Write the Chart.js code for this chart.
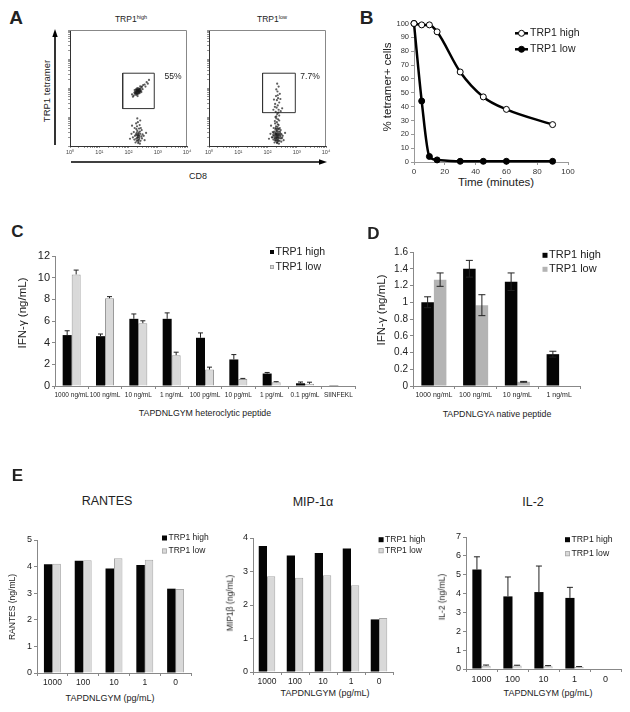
<!DOCTYPE html>
<html>
<head>
<meta charset="utf-8">
<script src="https://cdn.jsdelivr.net/npm/chart.js@4.4.1/dist/chart.umd.min.js"></script>
<style>
  body { margin: 0; background: #fff; }
  #page { position: relative; width: 630px; height: 712px; overflow: hidden;
          font-family: "Liberation Sans", Arial, Helvetica, sans-serif; color: #222; }
  #page canvas, #page svg { position: absolute; }
  .t { position: absolute; white-space: nowrap; line-height: 1; transform: translate(-50%, -50%); }
  .t.rot { transform: translate(-50%, -50%) rotate(-90deg); }
  .t sup { font-size: 65%; vertical-align: 0.45em; line-height: 0; }
</style>
</head>
<body>
<div id="page">
  <svg width="630" height="712" style="left:0;top:0">
    <line x1="55" y1="145" x2="55" y2="36" stroke="#000" stroke-width="1.6"/>
    <polygon points="55,29 52.3,37 57.7,37" fill="#000"/>
    <line x1="71" y1="162" x2="320" y2="162" stroke="#000" stroke-width="1.6"/>
    <polygon points="327,162 319,159.3 319,164.7" fill="#000"/>
  </svg>
</div>
<script>
// ---- panel A: flow cytometry (log10 decades) ----
const flowTickLabels = ['10⁰', '10¹', '10²', '10³', '10⁴'];
const highUpperCluster = [[2.30,1.88],[2.34,1.92],[2.28,1.85],[2.38,1.95],[2.25,1.82],[2.32,1.90],[2.36,1.86],[2.27,1.93],[2.40,1.98],[2.22,1.80],[2.33,1.84],[2.29,1.96],[2.35,1.99],[2.31,1.79],[2.42,1.92],[2.24,1.88],[2.37,1.90],[2.26,1.76],[2.44,2.02],[2.20,1.84],[2.39,1.87],[2.30,2.00],[2.34,1.81],[2.28,1.90],[2.46,2.05],[2.18,1.74],[2.32,1.94],[2.36,1.96],[2.23,1.86],[2.41,1.89],[2.27,1.83],[2.33,1.87],[2.30,1.92],[2.35,1.93],[2.29,1.80],[2.50,2.10],[2.55,2.12],[2.62,2.20],[2.70,2.28],[2.15,1.70],[2.48,1.96],[2.21,1.93],[2.38,1.82],[2.25,1.95],[2.58,2.05],[2.12,1.78],[2.44,1.86],[2.31,1.72],[2.40,2.06],[2.66,2.15]];
const negativeCluster = [[2.30,0.30],[2.35,0.38],[2.26,0.25],[2.40,0.42],[2.32,0.20],[2.28,0.45],[2.37,0.28],[2.22,0.35],[2.44,0.33],[2.30,0.52],[2.34,0.15],[2.25,0.40],[2.39,0.50],[2.31,0.36],[2.20,0.22],[2.46,0.26],[2.36,0.60],[2.27,0.58],[2.33,0.10],[2.41,0.18],[2.18,0.48],[2.29,0.68],[2.38,0.72],[2.24,0.12],[2.48,0.40],[2.15,0.30],[2.32,0.82],[2.42,0.62],[2.26,0.78],[2.35,0.46],[2.31,0.28],[2.34,0.32],[2.29,0.38],[2.36,0.22],[2.52,0.35],[2.10,0.42],[2.45,0.55],[2.21,0.62],[2.39,0.08],[2.55,0.20],[2.05,0.25],[2.30,0.95],[2.40,0.88],[2.60,0.45],[2.12,0.70],[2.33,0.42],[2.28,0.18],[2.37,0.35]];
const lowExtraCluster = [[2.23,0.50],[2.43,0.48],[2.27,0.32],[2.38,0.40],[2.32,0.58],[2.19,0.38],[2.47,0.15],[2.34,0.66],[2.25,0.86],[2.36,0.92],[2.30,1.02],[2.40,1.05],[2.31,0.25],[2.35,0.30],[2.29,0.43],[2.33,0.52],[2.26,0.20],[2.41,0.27],[2.24,0.28],[2.37,0.18],[2.42,0.36],[2.21,0.45],[2.28,0.62],[2.39,0.58],[2.32,0.12],[2.45,0.42],[2.17,0.30],[2.35,0.75],[2.30,0.40],[2.50,0.28]];
const lowStreak = [[2.33,1.10],[2.28,1.18],[2.38,1.25],[2.31,1.32],[2.35,1.40],[2.26,1.45],[2.40,1.50],[2.32,1.58],[2.36,1.65],[2.29,1.72],[2.42,1.80],[2.34,1.88],[2.30,1.95],[2.38,2.05],[2.25,1.35],[2.45,1.20],[2.22,1.60],[2.44,1.62],[2.33,2.15],[2.37,1.15],[2.27,1.00],[2.50,1.30],[2.20,1.25],[2.35,1.75]];
const gateHigh = [[1.80,1.29],[2.88,1.29],[2.88,2.51],[1.80,2.51],[1.80,1.29]];
const gateLow = [[1.83,1.15],[2.95,1.15],[2.95,2.51],[1.83,2.51],[1.83,1.15]];

// ---- panel B: tetramer decay ----
const timeMinutes = [0, 5, 10, 15, 30, 45, 60, 90];
const tetramerHigh = [100, 99, 99, 94, 65, 47, 38, 27];
const tetramerLow = [100, 44, 4, 1.5, 0.5, 0.5, 0.5, 0.5];

// ---- panel C: heteroclytic peptide ----
const dosesC = ['1000 ng/mL', '100 ng/mL', '10 ng/mL', '1 ng/mL', '100 pg/mL', '10 pg/mL', '1 pg/mL', '0.1 pg/mL', 'SIINFEKL'];
const ifnHighC = [4.7, 4.6, 6.2, 6.2, 4.45, 2.45, 1.15, 0.25, 0.02];
const ifnHighErrC = [0.4, 0.2, 0.45, 0.55, 0.45, 0.45, 0.1, 0.12, 0];
const ifnLowC = [10.3, 8.1, 5.8, 2.85, 1.52, 0.65, 0.35, 0.2, 0];
const ifnLowErrC = [0.4, 0.15, 0.22, 0.27, 0.22, 0.05, 0.05, 0.15, 0];

// ---- panel D: native peptide ----
const dosesD = ['1000 ng/mL', '100 ng/mL', '10 ng/mL', '1 ng/mL'];
const ifnHighD = [1.0, 1.4, 1.245, 0.38];
const ifnHighErrD = [0.065, 0.1, 0.105, 0.035];
const ifnLowD = [1.27, 0.965, 0.05, 0];
const ifnLowErrD = [0.08, 0.125, 0.005, 0];

// ---- panel E: cytokines ----
const dosesE = ['1000', '100', '10', '1', '0'];
const rantesHigh = [4.09, 4.22, 3.93, 4.06, 3.17];
const rantesLow = [4.11, 4.24, 4.31, 4.26, 3.16];
const mipHigh = [3.76, 3.48, 3.55, 3.69, 1.57];
const mipLow = [2.86, 2.81, 2.89, 2.59, 1.61];
const il2High = [5.27, 3.85, 4.08, 3.77, 0];
const il2HighErr = [0.68, 1.03, 1.38, 0.56, 0];
const il2Low = [0.17, 0.18, 0.15, 0.1, 0];
const il2LowErr = [0.04, 0.02, 0.03, 0.03, 0];

const FONT = '"Liberation Sans", Arial, Helvetica, sans-serif';
Chart.defaults.font.family = FONT;
Chart.defaults.color = '#222';
const page = document.getElementById('page');

// small legend drawn at fixed page coords
const boxLegend = {
  id: 'boxLegend',
  afterDraw(chart, args, o) {
    if (o.x === undefined) return;
    const ctx = chart.ctx;
    ctx.save();
    ctx.font = o.size + 'px ' + FONT;
    ctx.textBaseline = 'middle';
    chart.data.datasets.forEach((ds, i) => {
      if (!ds.label) return;
      const x = o.x - o.ox, y = o.y - o.oy + i * o.dy;
      let tx;
      if (o.mode === 'line') {
        ctx.strokeStyle = ds.borderColor; ctx.lineWidth = ds.borderWidth;
        ctx.beginPath(); ctx.moveTo(x, y); ctx.lineTo(x + o.len, y); ctx.stroke();
        ctx.beginPath(); ctx.arc(x + o.len / 2, y, 3, 0, Math.PI * 2);
        ctx.fillStyle = ds.pointBackgroundColor; ctx.fill();
        ctx.lineWidth = 1; ctx.strokeStyle = '#000'; ctx.stroke();
        tx = x + o.len + 2;
      } else {
        ctx.fillStyle = ds.backgroundColor;
        ctx.fillRect(x, y - o.box / 2, o.box, o.box);
        if (ds.borderWidth) { ctx.strokeStyle = ds.borderColor; ctx.lineWidth = 0.8; ctx.strokeRect(x + 0.4, y - o.box / 2 + 0.4, o.box - 0.8, o.box - 0.8); }
        tx = x + o.box + 1.5;
      }
      ctx.fillStyle = '#222';
      ctx.fillText(ds.label, tx, y);
    });
    ctx.restore();
  }
};

const errorBars = {
  id: 'errorBars',
  afterDatasetsDraw(chart, args, o) {
    if (!o.cap) return;
    const ctx = chart.ctx, ys = chart.scales.y;
    ctx.save();
    ctx.strokeStyle = '#222'; ctx.lineWidth = 1;
    chart.data.datasets.forEach((ds, i) => {
      if (!ds.errors) return;
      chart.getDatasetMeta(i).data.forEach((bar, j) => {
        const e = ds.errors[j];
        if (!e) return;
        const v = ds.data[j];
        const top = ys.getPixelForValue(v + e);
        const bot = o.both ? ys.getPixelForValue(Math.max(v - e, 0)) : bar.y;
        ctx.beginPath();
        ctx.moveTo(bar.x, top); ctx.lineTo(bar.x, bot);
        ctx.moveTo(bar.x - o.cap, top); ctx.lineTo(bar.x + o.cap, top);
        if (o.both) { ctx.moveTo(bar.x - o.cap, bot); ctx.lineTo(bar.x + o.cap, bot); }
        ctx.stroke();
      });
    });
    ctx.restore();
  }
};

const frame = {
  id: 'frame',
  beforeDatasetsDraw(chart, args, o) {
    if (!o.color) return;
    const a = chart.chartArea, ctx = chart.ctx;
    ctx.save();
    ctx.strokeStyle = o.color; ctx.lineWidth = 1;
    ctx.beginPath();
    ctx.moveTo(a.left, a.top + 0.5); ctx.lineTo(a.right - 0.5, a.top + 0.5); ctx.lineTo(a.right - 0.5, a.bottom);
    ctx.stroke();
    ctx.restore();
  }
};
Chart.register(boxLegend, errorBars, frame);

// area = chart area in page px [l, t, r, b]; pad = room for axes [left, top, right, bottom]
function makeChart(area, pad, config) {
  const [l, t, r, b] = area, [pl, pt, pr, pb] = pad;
  const cv = document.createElement('canvas');
  const W = Math.round(r - l + pl + pr), H = Math.round(b - t + pt + pb);
  cv.width = W; cv.height = H;
  cv.style.left = (l - pl) + 'px'; cv.style.top = (t - pt) + 'px';
  cv.style.width = W + 'px'; cv.style.height = H + 'px';
  page.appendChild(cv);
  const o = config.options;
  o.responsive = false; o.animation = false; o.devicePixelRatio = 1;
  o.layout = { padding: { top: pt, right: pr, left: 0, bottom: 0 } };
  o.scales.x.afterFit = s => { s.height = pb; };
  o.scales.y.afterFit = s => { s.width = pl; };
  o.plugins = Object.assign({ legend: { display: false }, tooltip: { enabled: false } }, o.plugins || {});
  if (o.plugins.boxLegend) { o.plugins.boxLegend.ox = l - pl; o.plugins.boxLegend.oy = t - pt; }
  return new Chart(cv, config);
}

function txt(html, x, y, size, extra) {
  const d = document.createElement('div');
  d.className = 't' + (extra && extra.rot ? ' rot' : '');
  d.innerHTML = html;
  d.style.left = x + 'px'; d.style.top = y + 'px'; d.style.fontSize = size + 'px';
  if (extra && extra.bold) d.style.fontWeight = 'bold';
  page.appendChild(d);
}

const pts = arr => arr.map(p => ({ x: p[0], y: p[1] }));
const flowMinor = [];
for (let n = 0; n < 4; n++) for (let k = 2; k < 10; k++) flowMinor.push(n + Math.log10(k));

function flowAxis(labels) {
  return {
    type: 'linear', min: 0, max: 4,
    afterBuildTicks: s => { s.ticks = [0, 1, 2, 3, 4].concat(flowMinor).sort((a, b) => a - b).map(v => ({ value: v })); },
    grid: { display: true, drawOnChartArea: false, tickLength: 2, color: '#666', lineWidth: 0.7 },
    border: { color: '#333' },
    ticks: labels
      ? { autoSkip: false, maxRotation: 0, padding: 1, font: { size: 5.5 }, color: '#444', callback: v => Number.isInteger(v) ? flowTickLabels[v] : '' }
      : { display: false }
  };
}

function flowChart(area, clouds, gate) {
  const ds = clouds.map(c => ({ data: pts(c), pointRadius: 1.1, pointBackgroundColor: 'rgba(25,25,25,0.7)', pointBorderWidth: 0 }));
  ds.push({ data: pts(gate), showLine: true, borderColor: '#333', borderWidth: 1, pointRadius: 0, fill: false });
  return makeChart(area, [4, 2, 8, 10], {
    type: 'scatter',
    data: { datasets: ds },
    options: { scales: { x: flowAxis(true), y: flowAxis(false) }, plugins: { frame: { color: '#888' } } }
  });
}

flowChart([69, 28, 187, 146], [negativeCluster, highUpperCluster], gateHigh);
flowChart([208, 28, 326, 146], [negativeCluster, lowExtraCluster, lowStreak], gateLow);

// panel B
makeChart([414, 22.7, 568, 162], [30, 6, 22, 14], {
  type: 'scatter',
  data: { datasets: [
    { label: 'TRP1 high', data: timeMinutes.map((t, i) => ({ x: t, y: tetramerHigh[i] })), showLine: true,
      borderColor: '#000', borderWidth: 2.5, pointRadius: 3, pointBackgroundColor: '#fff', pointBorderColor: '#000', pointBorderWidth: 1,
      cubicInterpolationMode: 'monotone', clip: false },
    { label: 'TRP1 low', data: timeMinutes.map((t, i) => ({ x: t, y: tetramerLow[i] })), showLine: true,
      borderColor: '#000', borderWidth: 2.5, pointRadius: 3, pointBackgroundColor: '#000', pointBorderColor: '#000', pointBorderWidth: 1,
      cubicInterpolationMode: 'monotone', clip: false }
  ]},
  options: {
    scales: {
      x: { min: 0, max: 100, grid: { display: true, drawOnChartArea: false, tickLength: 3, color: '#999' }, border: { color: '#999' },
           ticks: { stepSize: 20, font: { size: 8 }, color: '#333', padding: 2, maxRotation: 0 } },
      y: { min: 0, max: 100, grid: { display: true, drawOnChartArea: false, tickLength: 3, color: '#999' }, border: { color: '#999' },
           ticks: { stepSize: 10, font: { size: 7.5 }, color: '#333', padding: 2 } }
    },
    plugins: { boxLegend: { x: 515, y: 33, dy: 16, size: 10.5, mode: 'line', len: 13 } }
  }
});

function barChart(area, pad, labels, hi, lo, s) {
  return makeChart(area, pad, {
    type: 'bar',
    data: { labels, datasets: [
      { label: 'TRP1 high', data: hi, errors: s.hiErr, backgroundColor: '#050505', borderWidth: 0 },
      { label: 'TRP1 low', data: lo, errors: s.loErr, backgroundColor: s.gray, borderColor: s.grayBorder || s.gray, borderWidth: s.grayBorder ? 1 : 0 }
    ]},
    options: {
      datasets: { bar: { categoryPercentage: s.cat, barPercentage: 1 } },
      scales: {
        x: { grid: { display: true, drawOnChartArea: false, tickLength: 3, color: '#888', offset: true }, border: { color: '#888' },
             ticks: { font: { size: s.xFont }, color: '#222', maxRotation: 0, autoSkip: false, padding: s.xPad || 2 } },
        y: { min: 0, max: s.max, grid: { display: true, drawOnChartArea: false, tickLength: 3, color: '#888' }, border: { color: '#888' },
             ticks: { stepSize: s.step, font: { size: s.yFont }, color: '#222', padding: 2, callback: v => String(+v.toFixed(2)) } }
      },
      plugins: { boxLegend: s.legend, errorBars: { both: s.both, cap: s.cap } }
    }
  });
}

barChart([55, 255.7, 355, 385.7], [30, 14, 8, 14], dosesC, ifnHighC, ifnLowC, {
  hiErr: ifnHighErrC, loErr: ifnLowErrC, gray: '#d9d9d9', grayBorder: '#9a9a9a', cat: 0.54, max: 12, step: 2,
  xFont: 6.5, yFont: 11, cap: 2.5, both: false,
  legend: { x: 270, y: 251.7, dy: 15, size: 10.5, box: 4 } });

barChart([412.5, 251.7, 579, 385.7], [30, 10, 45, 14], dosesD, ifnHighD, ifnLowD, {
  hiErr: ifnHighErrD, loErr: ifnLowErrD, gray: '#b4b4b4', cat: 0.6, max: 1.6, step: 0.2,
  xFont: 7, yFont: 10, cap: 3.5, both: true,
  legend: { x: 542, y: 255, dy: 14, size: 11, box: 5 } });

barChart([37, 540, 191, 673.3], [25, 10, 20, 14], dosesE, rantesHigh, rantesLow, {
  gray: '#d9d9d9', grayBorder: '#a8a8a8', cat: 0.55, max: 5, step: 1, xFont: 8.5, yFont: 9,
  legend: { x: 162, y: 538, dy: 13, size: 8.5, box: 5 } });

barChart([252.7, 538.3, 393, 672.7], [25, 10, 35, 14], dosesE, mipHigh, mipLow, {
  gray: '#d9d9d9', grayBorder: '#a8a8a8', cat: 0.59, max: 4, step: 1, xFont: 8.5, yFont: 9,
  legend: { x: 378.3, y: 540, dy: 11, size: 8.5, box: 5 } });

barChart([466, 537.3, 621, 669], [25, 10, 8, 14], dosesE, il2High, il2Low, {
  hiErr: il2HighErr, loErr: il2LowErr, gray: '#d9d9d9', grayBorder: '#a8a8a8', cat: 0.59, max: 7, step: 1,
  xFont: 9, yFont: 9, cap: 3, both: false,
  legend: { x: 565, y: 540, dy: 14, size: 8.7, box: 5 } });

// panel letters, titles and axis titles
txt('A', 16, 17, 19, { bold: true });
txt('TRP1<sup>high</sup>', 131, 19, 8.5);
txt('TRP1<sup>low</sup>', 272, 19, 8.5);
txt('55%', 173, 76, 8.5);
txt('7.7%', 310, 76, 8.5);
txt('TRP1 tetramer', 47, 91, 9.5, { rot: true });
txt('CD8', 198, 176, 9);
txt('B', 366.5, 16.5, 19, { bold: true });
txt('% tetramer+ cells', 388, 87, 11.5, { rot: true });
txt('Time (minutes)', 496, 183, 11.5);
txt('C', 17.5, 231, 17, { bold: true });
txt('IFN-γ (ng/mL)', 23, 313, 11.5, { rot: true });
txt('TAPDNLGYM heteroclytic peptide', 205, 412.7, 8.8);
txt('D', 373.5, 232.5, 17, { bold: true });
txt('IFN-γ (ng/mL)', 382, 310, 11.5, { rot: true });
txt('TAPDNLGYA native peptide', 497, 414, 8.8);
txt('E', 17.5, 475, 17, { bold: true });
txt('RANTES', 107, 501, 12.5);
txt('MIP-1α', 313, 502, 12.5);
txt('IL-2', 533, 502, 12.5);
txt('RANTES (ng/mL)', 12, 607, 8.5, { rot: true });
txt('MIP1β (ng/mL)', 230, 603, 8.5, { rot: true });
txt('IL-2 (ng/mL)', 441.7, 597, 8.5, { rot: true });
txt('TAPDNLGYM (pg/mL)', 110, 698, 9);
txt('TAPDNLGYM (pg/mL)', 325, 693, 9);
txt('TAPDNLGYM (pg/mL)', 548, 693, 9);
</script>
</body>
</html>
